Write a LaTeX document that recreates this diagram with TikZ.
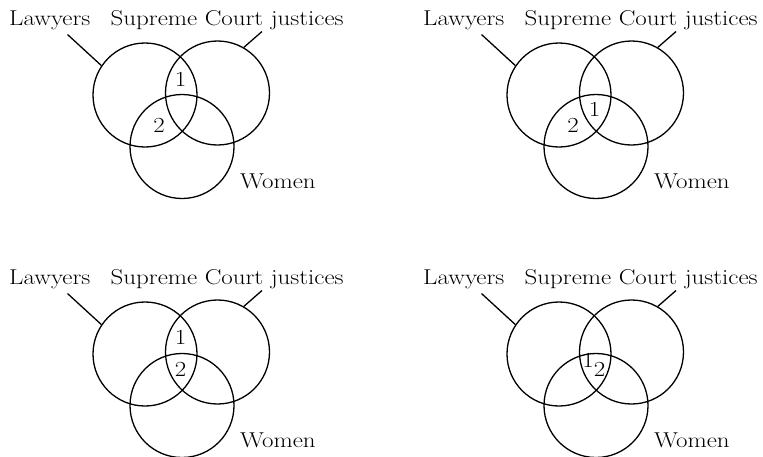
\documentclass[tikz,border=0pt]{standalone}
\usepackage{fontspec}
\setmainfont{Latin Modern Roman}[FakeStretch=1.16]
\begin{document}
\begin{tikzpicture}[x=1pt,y=-1pt,
  venn/.style={draw,circle,minimum size=104pt,inner sep=0pt,line width=1.3pt},
  lead/.style={line width=1.3pt},
  lbl/.style={anchor=base west,inner sep=0pt,font=\fontsize{21.5}{25}\selectfont},
  num/.style={anchor=base,inner sep=0pt,font=\fontsize{21.5}{25}\selectfont}]
\useasboundingbox (0,0) rectangle (763,456);
\foreach \p/\dx/\dy in {a/0/0,b/414/0,c/0/259,d/414/259}{
  \begin{scope}[shift={(\dx,\dy)}]
    \node[venn] (\p L) at (145,95) {};
    \node[venn] (\p S) at (217.5,93) {};
    \node[venn] (\p W) at (182,146.5) {};
    \node[lbl] (\p tl) at (9,25.7) {Lawyers};
    \node[lbl] (\p ts) at (110.5,25.7) {Supreme Court justices};
    \node[lbl] (\p tw) at (240,188.5) {Women};
    \coordinate (\p cl) at (67.5,34.5);
    \coordinate (\p cs) at (262,31.5);
    \draw[lead] (\p cl) -- (\p L.146);
    \draw[lead] (\p cs) -- (\p S.60);
  \end{scope}
}
% panel a
\node[num] (a1) at (180.6,86.5) {1};
\node[num] (a2) at (159,132.5) {2};
% panel b
\node[num] (b1) at (594.7,116.6) {1};
\node[num] (b2) at (573,132.4) {2};
% panel c
\node[num] (c1) at (180.5,344) {1};
\node[num] (c2) at (180.5,376.7) {2};
% panel d
\node[num] (d1) at (588,367.3) {1};
\node[num] (d2) at (599.5,376.7) {2};
\end{tikzpicture}
\end{document}
